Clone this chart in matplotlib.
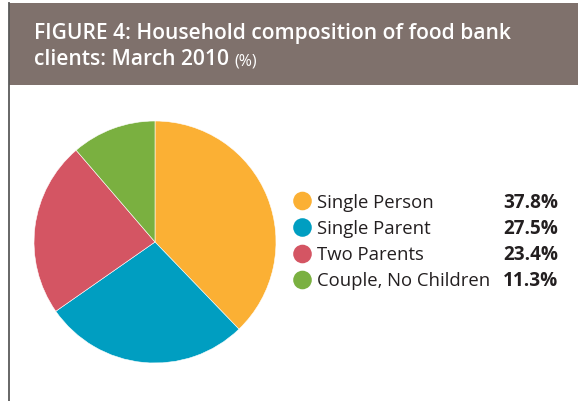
import matplotlib
matplotlib.use("Agg")
import matplotlib.pyplot as plt
from matplotlib.patches import Rectangle, Circle
from matplotlib.lines import Line2D

categories = ["Single Person", "Single Parent", "Two Parents", "Couple, No Children"]
values = [37.8, 27.5, 23.4, 11.3]
labels = ["37.8%", "27.5%", "23.4%", "11.3%"]
colors = ["#FBB034", "#009EC1", "#D45563", "#7AB040"]
title_line1 = "FIGURE 4: Household composition of food bank"
title_line2 = "clients: March 2010"
title_unit = "(%)"

FONT = ['Open Sans', 'DejaVu Sans']
plt.rcParams['font.family'] = FONT

W, H = 578, 401
fig = plt.figure(figsize=(W / 100, H / 100), dpi=100)
fig.patch.set_facecolor("white")

ov = fig.add_axes([0, 0, 1, 1])
ov.set_xlim(0, W)
ov.set_ylim(H, 0)
ov.axis("off")

ov.add_patch(Rectangle((9, 3), W - 9, 82, facecolor="#7F716C", edgecolor="none"))
ov.add_line(Line2D([8.5, 8.5], [3, H], color="#5a5a5a", lw=1.3))

ov.text(34, 38.5, title_line1, color="white", fontsize=15.1, fontweight="semibold",
        va="baseline", ha="left")
t2 = ov.text(34, 65, title_line2, color="white", fontsize=15.1, fontweight="semibold",
             va="baseline", ha="left")
fig.canvas.draw()
bb = t2.get_window_extent()
ov.text(bb.x1 + 5, 65, title_unit, color="white", fontsize=11.5,
        va="baseline", ha="left")

cx, cy, r = 155, 242, 121
pax = fig.add_axes([(cx - r) / W, (H - cy - r) / H, 2 * r / W, 2 * r / H])
pax.pie(values, colors=colors, startangle=90, counterclock=False,
        wedgeprops=dict(linewidth=0.4, edgecolor="white"))
pax.set_xlim(-1, 1)
pax.set_ylim(-1, 1)
pax.set_aspect("auto")
pax.axis("off")

ys = [201, 227.5, 254, 280]
for y, cat, lab, col in zip(ys, categories, labels, colors):
    ov.add_patch(Circle((302.5, y), 9.3, facecolor=col, edgecolor="none"))
    ov.text(317, y + 6.5, cat, fontsize=13.3, color="#231f20", va="baseline", ha="left")
    ov.text(558, y + 6.5, lab, fontsize=13.6, fontweight="bold", color="#231f20",
            va="baseline", ha="right")

fig.savefig("out.png", dpi=100)
